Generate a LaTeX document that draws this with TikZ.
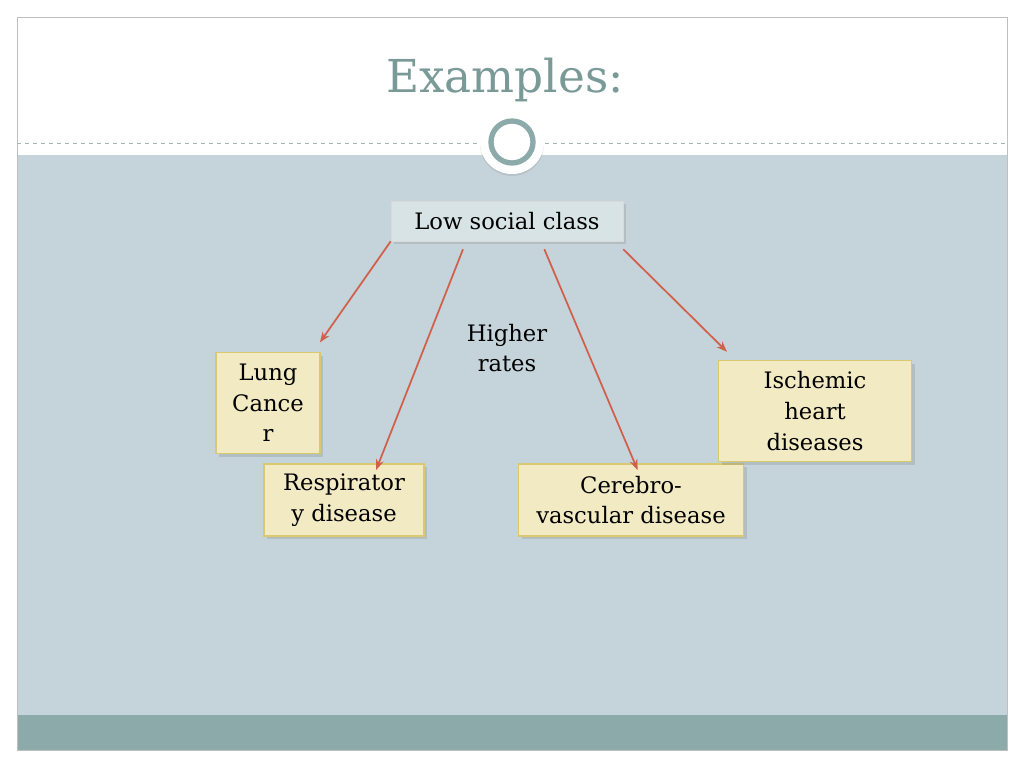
\documentclass[tikz,border=0pt]{standalone}
\usepackage{fontspec}
\setmainfont{DejaVu Serif}
\usetikzlibrary{arrows.meta,shadows}
\definecolor{slide}{HTML}{C5D3DA}
\definecolor{band}{HTML}{8DAAAA}
\definecolor{titlec}{HTML}{7A9A98}
\definecolor{boxfill}{HTML}{F1EAC2}
\definecolor{boxline}{HTML}{D8C870}
\definecolor{arrowc}{HTML}{D0604A}
\definecolor{lowfill}{HTML}{D8E3E6}
\tikzset{
  disease/.style={draw=boxline,fill=boxfill,line width=0.8pt,align=center,
    font=\fontsize{17}{23}\selectfont,drop shadow={opacity=0.25}},
  link/.style={draw=arrowc,line width=1.3pt,-{Stealth[length=8pt]}}
}
\begin{document}
\begin{tikzpicture}[x=0.75pt,y=-0.75pt]
  % slide background
  \useasboundingbox (0,0) rectangle (1024,768);
  \fill[white] (0,0) rectangle (1024,768);
  \fill[slide] (17,155) rectangle (1007,715);
  \fill[band] (17,715) rectangle (1007,750);
  \draw[gray!50] (17,17) rectangle (1007,750);
  \draw[titlec!70,dashed] (17,143) -- (1007,143);
  \node (title) at (505,80) {\color{titlec}\fontsize{34}{40}\selectfont Examples:};
  \fill[white,drop shadow={opacity=0.2,shadow xshift=0pt,shadow yshift=-1.5pt}] (512,142) circle (32);
  \draw[band,line width=4pt] (512,142) circle (21);

  % nodes
  \node[draw=white!70!gray,fill=lowfill,minimum width=174pt,minimum height=30pt,
    font=\fontsize{17}{21}\selectfont,drop shadow={opacity=0.25}] (low) at (507,221) {Low social class};
  \node[font=\fontsize{17}{23}\selectfont,align=center] (rates) at (507,348) {Higher\\rates};
  \node[disease,minimum width=78pt,minimum height=76pt] (lung) at (268,403) {Lung\\Cance\\r};
  \node[disease,minimum width=120pt,minimum height=54pt] (resp) at (344,500) {Respirator\\y disease};
  \node[disease,minimum width=169pt,minimum height=54pt] (cere) at (631,500) {Cerebro-\\vascular disease};
  \node[disease,minimum width=145pt,minimum height=76pt] (isch) at (815,411) {Ischemic\\heart\\diseases};

  % arrows
  \draw[link] (low.south west) -- ([xshift=-0.5pt,yshift=7pt]lung.north east);
  \draw[link] ([xshift=-33pt,yshift=-6pt]low.south) -- ([xshift=24pt,yshift=-5pt]resp.north);
  \draw[link] ([xshift=28pt,yshift=-6pt]low.south) -- ([xshift=5pt,yshift=-5pt]cere.north);
  \draw[link] ([yshift=-6pt]low.south east) -- ([xshift=-66pt,yshift=6pt]isch.north);
\end{tikzpicture}
\end{document}
